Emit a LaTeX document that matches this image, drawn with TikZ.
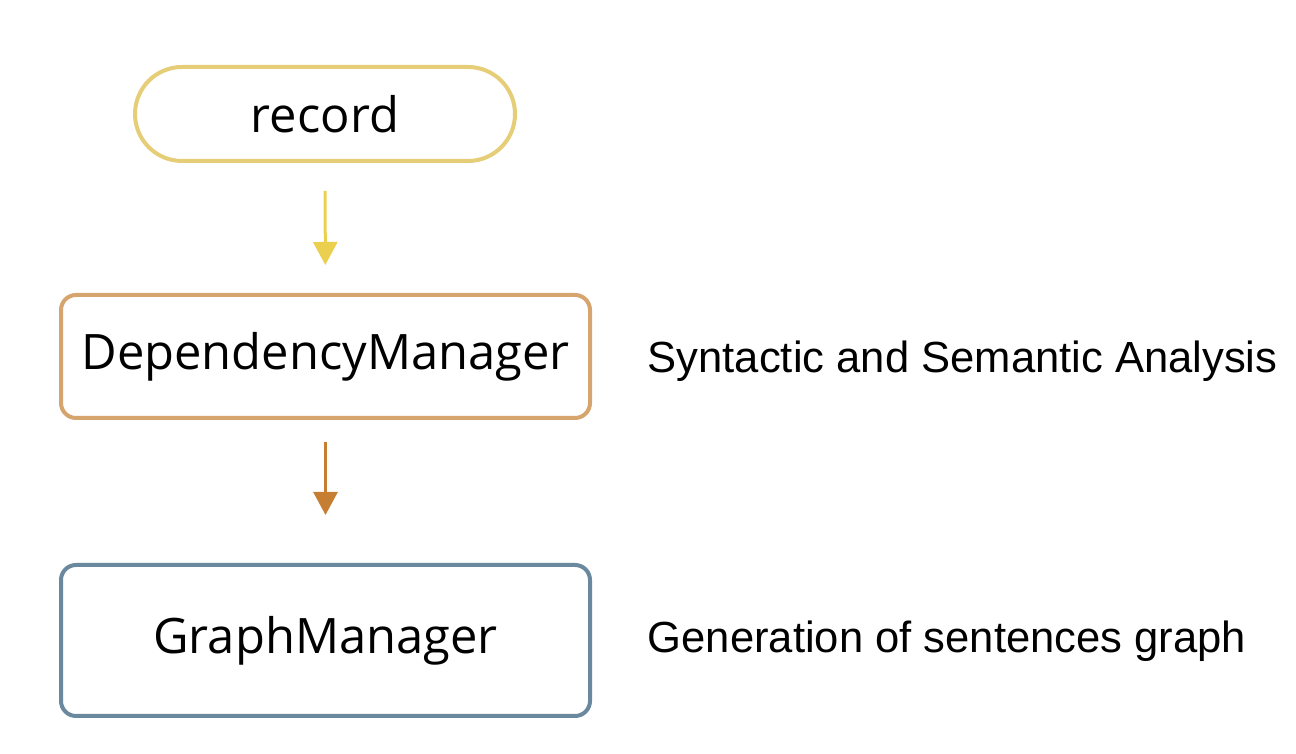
\documentclass[tikz,border=0pt]{standalone}
\usepackage{fontspec}
\setmainfont{Open Sans}
\newfontfamily\labelfont{Liberation Sans}
\usetikzlibrary{arrows.meta}

\definecolor{recordcol}{HTML}{E6CD78}
\definecolor{arrowonecol}{HTML}{EBCF4F}
\definecolor{depcol}{HTML}{D5A56D}
\definecolor{arrowtwocol}{HTML}{C67F32}
\definecolor{graphcol}{HTML}{6A889E}

\begin{document}
\begin{tikzpicture}[>={Triangle[width=0.24cm,length=0.23cm]},
  boxstyle/.style={draw, line width=0.04cm, fill=white, inner sep=0pt,
    font=\fontsize{13.9}{16}\selectfont},
  sidelabel/.style={anchor=west, inner sep=0pt,
    font=\labelfont\fontsize{12.4}{15}\selectfont},
  flow/.style={->, line width=0.03cm}]

  \useasboundingbox (0,0) rectangle (12.96,7.54);

  % Boxes
  \node[boxstyle, draw=recordcol, rounded corners=0.47cm,
    minimum width=3.80cm, minimum height=0.94cm] (record) at (3.25,6.40) {record};
  \node[boxstyle, draw=depcol, rounded corners=0.15cm,
    minimum width=5.29cm, minimum height=1.23cm] (depman) at (3.255,3.975) {DependencyManager};
  \node[boxstyle, draw=graphcol, rounded corners=0.15cm,
    minimum width=5.29cm, minimum height=1.51cm] (graphman) at (3.255,1.135) {GraphManager};

  % Side labels
  \node[sidelabel] (analysis) at (6.47,3.93) {Syntactic and Semantic Analysis};
  \node[sidelabel] (generation) at (6.47,1.13) {Generation of sentences graph};

  % Arrows
  \draw[flow, arrowonecol, shorten <=0.28cm, shorten >=0.28cm] (record) -- (depman);
  \draw[flow, arrowtwocol, shorten <=0.22cm, shorten >=0.48cm] (depman) -- (graphman);

\end{tikzpicture}
\end{document}
